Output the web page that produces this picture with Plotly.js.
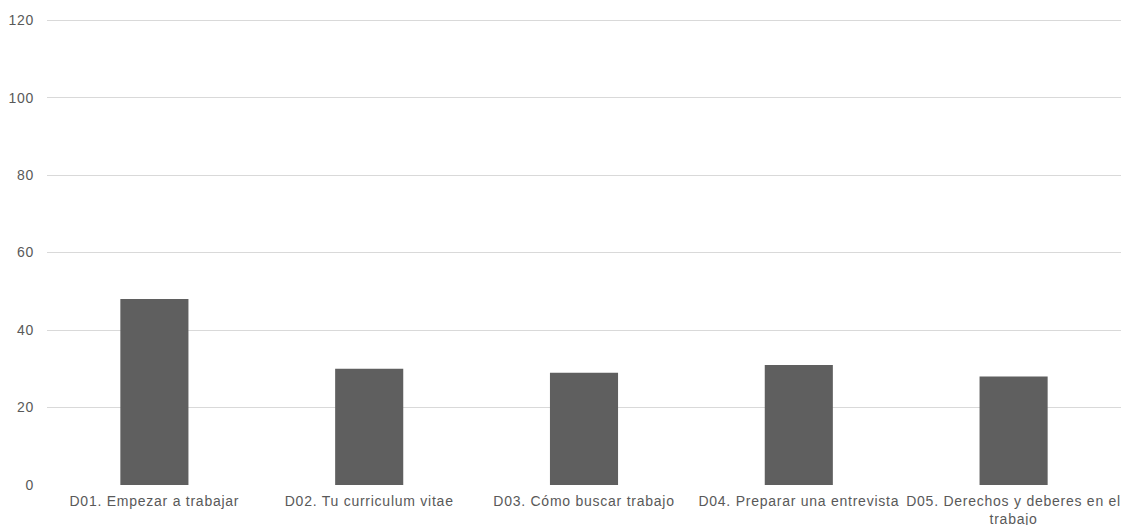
<!DOCTYPE html>
<html><head><meta charset="utf-8">
<script src="https://cdn.plot.ly/plotly-3.0.1.min.js"></script>
<style>body{margin:0;background:#fff}#c{width:1122px;height:525px}
.xtick text,.ytick text{letter-spacing:0.75px}</style>
</head><body><div id="c"></div>
<script>
var categories = ["D01. Empezar a trabajar","D02. Tu curriculum vitae","D03. Cómo buscar trabajo","D04. Preparar una entrevista","D05. Derechos y deberes en el<br>trabajo"];
var values = [48, 30, 29, 31, 28];
var yTicks = [0, 20, 40, 60, 80, 100, 120];
var FONT = "'Liberation Sans', Arial, sans-serif";

Plotly.newPlot('c', [{
  type: 'bar', x: categories, y: values,
  marker: {color: '#5f5f5f'}, hoverinfo: 'none'
}], {
  width: 1122, height: 525,
  margin: {l: 47, r: 1, t: 19, b: 40},
  paper_bgcolor: '#fff', plot_bgcolor: '#fff',
  bargap: 0.683,
  font: {family: FONT, size: 14, color: '#595959'},
  showlegend: false,
  xaxis: {showgrid: false, showline: false, zeroline: false, ticks: '', ticklabelstandoff: 6, tickfont: {family: FONT, size: 14, color: '#595959'}, automargin: false},
  yaxis: {range: [0, 120.3], tickvals: yTicks, showgrid: true, gridcolor: '#d9d9d9', gridwidth: 1, zeroline: false, showline: false, ticks: '', ticklabelstandoff: 12, tickfont: {family: FONT, size: 14, color: '#595959'}, automargin: false}
}, {displayModeBar: false, staticPlot: true});
</script></body></html>
